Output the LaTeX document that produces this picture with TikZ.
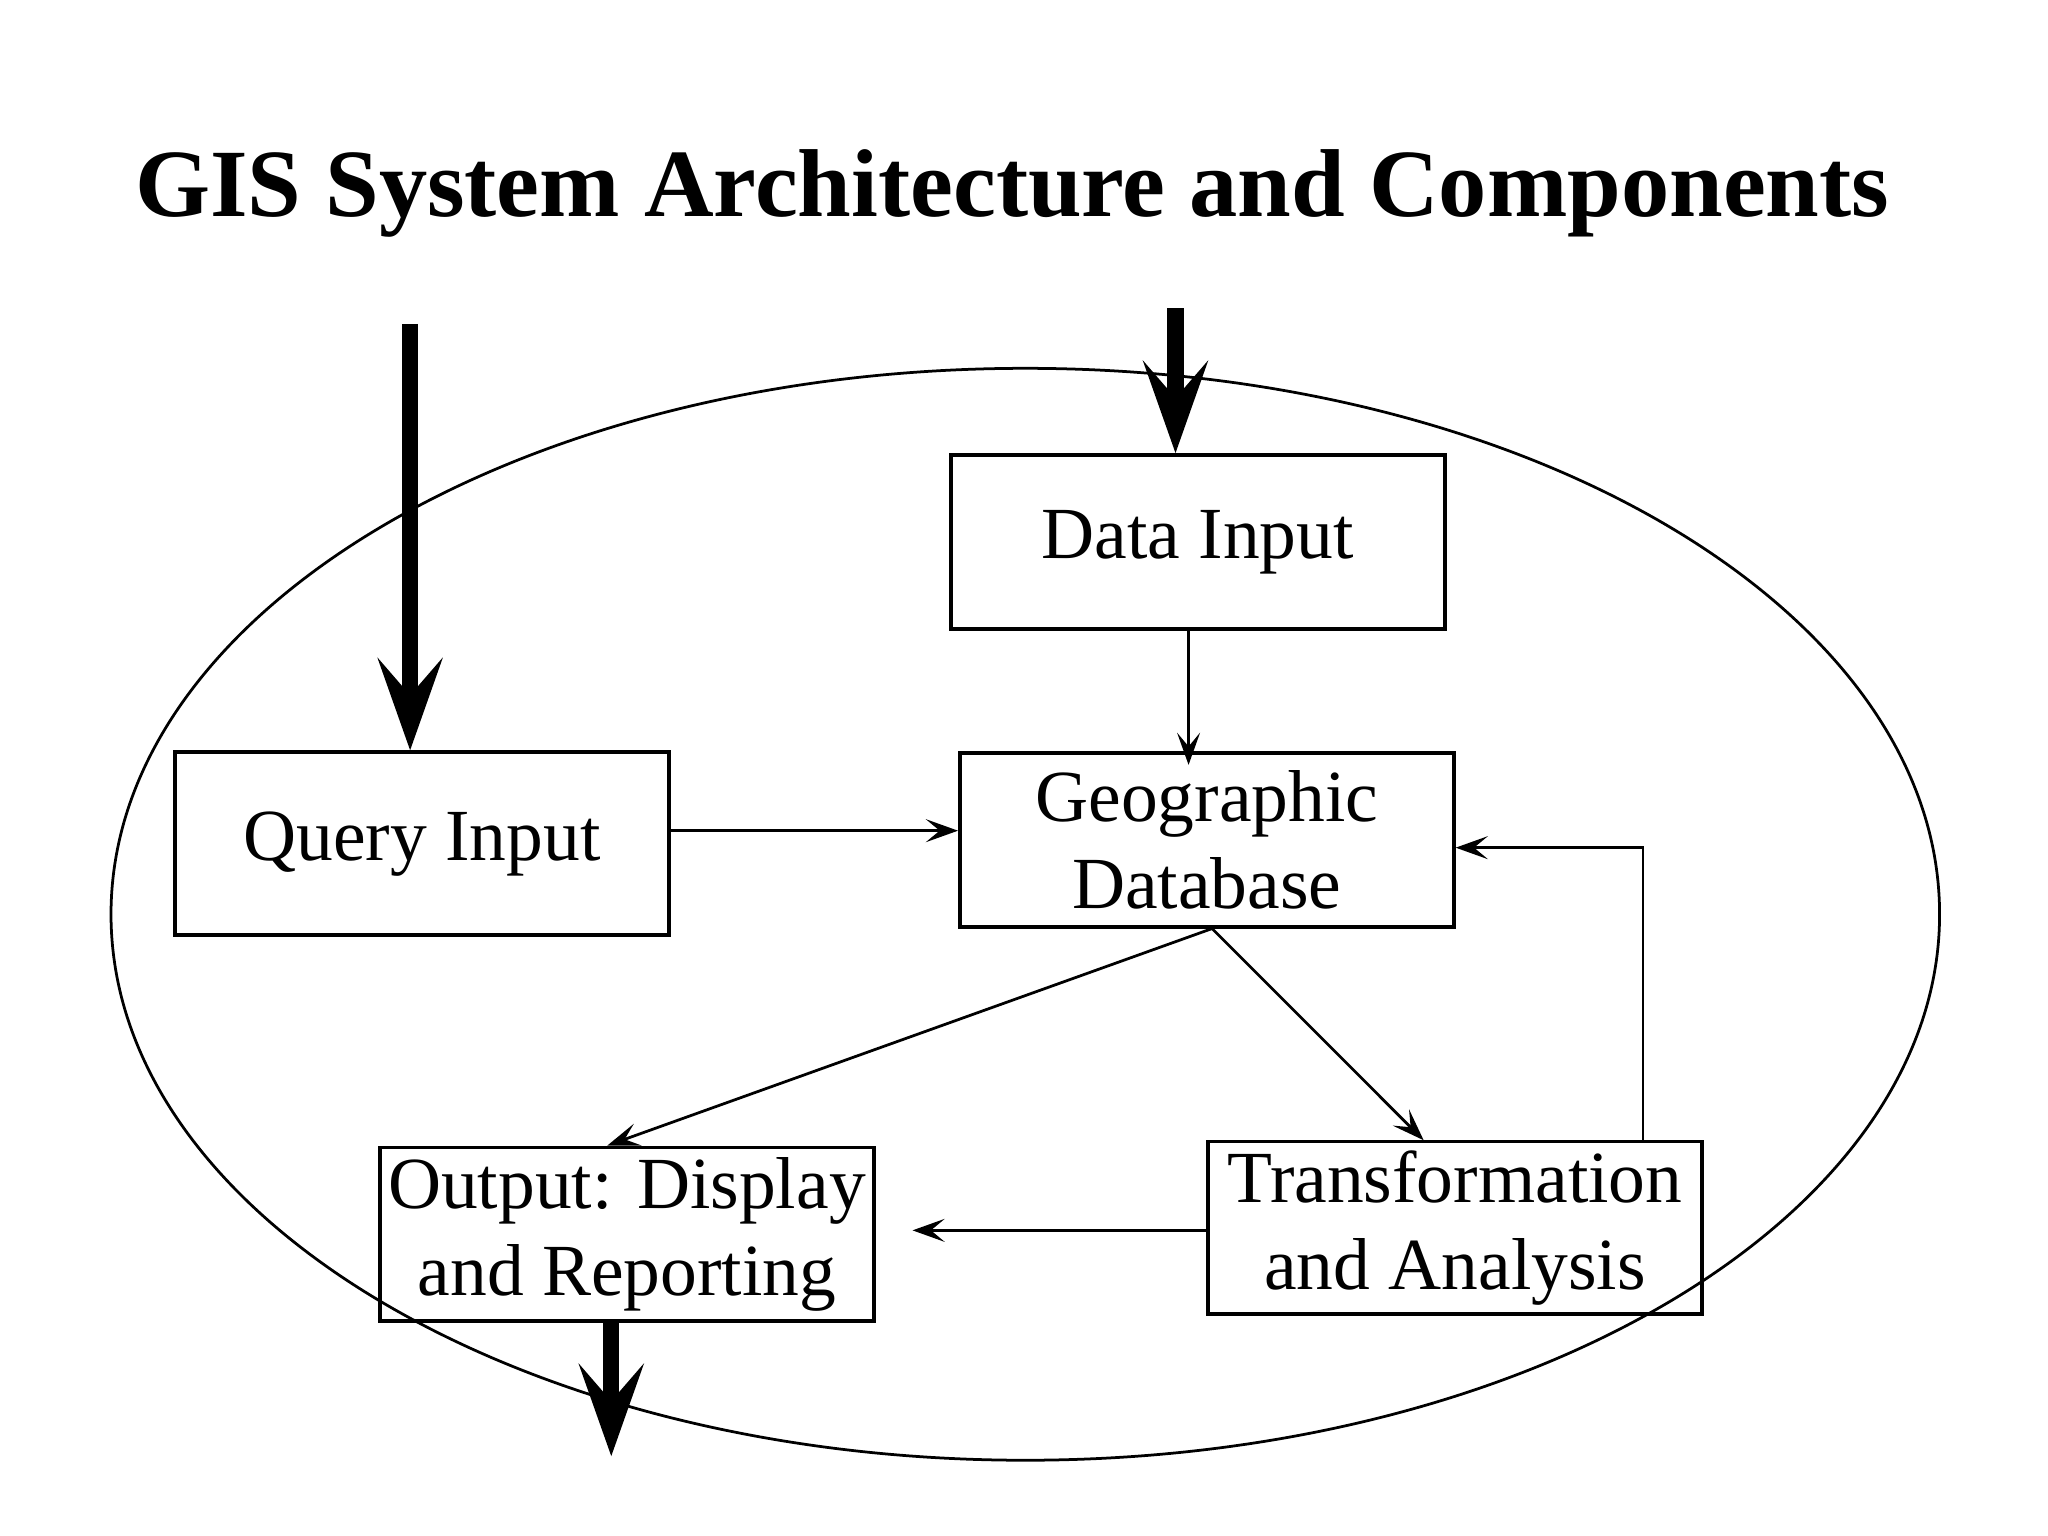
\documentclass[tikz,border=0pt]{standalone}
\usepackage{fontspec}
\setmainfont{Liberation Serif}
\usetikzlibrary{arrows.meta}
\begin{document}
\begin{tikzpicture}[x=0.01cm,y=-0.01cm,
  box/.style={draw,thick,minimum width=3.78cm,align=center,font=\fontsize{16}{19}\selectfont,inner sep=0pt},
  thin/.style={-{Stealth[length=7pt,width=5pt,inset=3pt]},semithick},
  heavy/.style={line width=3.5pt,-{Stealth[length=20pt,width=14pt,inset=8pt]}}]
\useasboundingbox (0,0) rectangle (1568,1176);
\node[font=\fontsize{21}{25}\selectfont\bfseries] (title) at (775,148) {GIS System Architecture and Components};
\draw[semithick] (785,700) ellipse [x radius=700, y radius=418];
\node[box,minimum height=1.33cm] (di) at (917,415) {Data Input};
\node[box,minimum height=1.33cm] (gd) at (924,643) {Geographic\\Database};
\node[box,minimum height=1.40cm] (qi) at (323,646) {Query Input};
\node[box,minimum height=1.33cm] (out) at (480,945) {Output: Display\\and Reporting};
\node[box,minimum height=1.32cm] (ta) at (1114,940) {Transformation\\and Analysis};
\coordinate (q0) at (314,248);
\coordinate (d0) at (900,236);
\coordinate (o1) at (468,1115);
\draw[heavy] (q0) -- (qi.north -| q0);
\draw[heavy] (d0) -- (di.north -| d0);
\draw[heavy] (out.south -| o1) -- (o1);
\draw[thin] (di.south -| 910,0) -- ([yshift=-3pt]gd.north -| 910,0);
\draw[thin] (qi.east |- 0,636) -- (gd.west |- 0,636);
\draw[thin] (gd.south -| 928,0) -- (out.north -| 465,0);
\draw[thin] (gd.south -| 928,0) -- (1090,873);
\draw[thin] (ta.north -| 1258,0) -- (1258,649) -- (gd.east |- 0,649);
\draw[thin] (ta.west |- 0,942) -- ([xshift=8pt]out.east |- 0,942);
\end{tikzpicture}
\end{document}
